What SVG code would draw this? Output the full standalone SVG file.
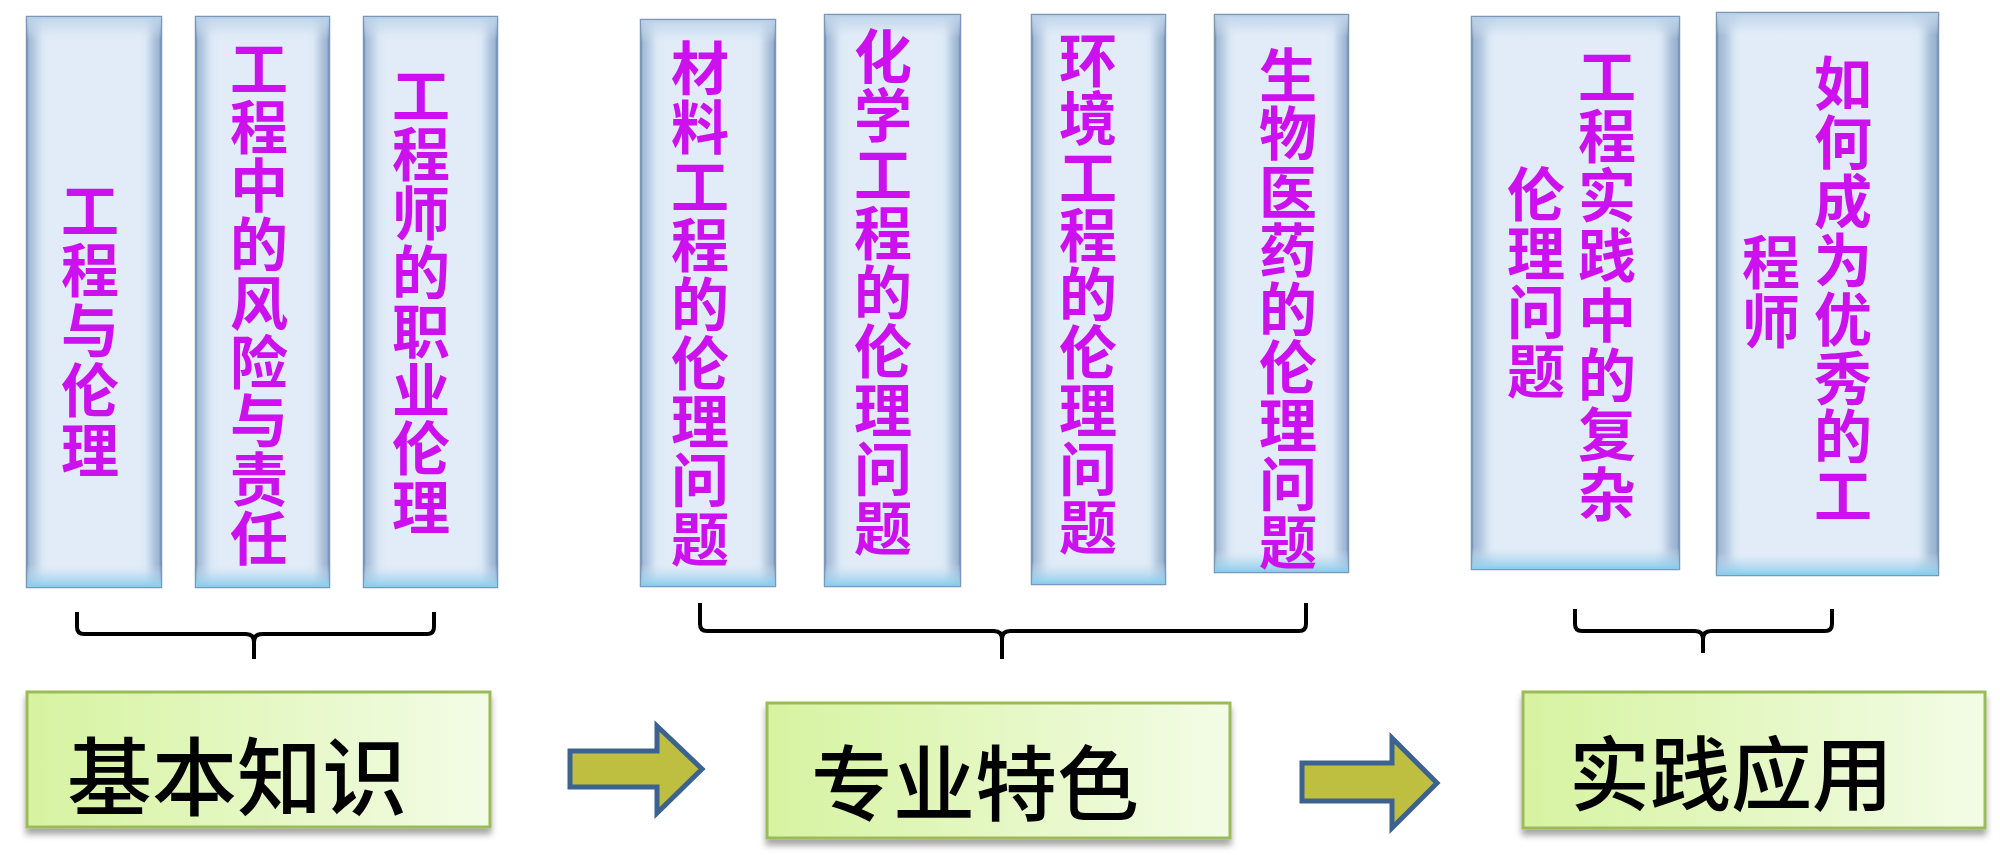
<svg xmlns="http://www.w3.org/2000/svg" width="2000" height="855" viewBox="0 0 2000 855">
<defs>
<linearGradient id="edgeH" x1="0" y1="0" x2="1" y2="0">
<stop offset="0" stop-color="#9DB6D3"/><stop offset="0.12" stop-color="#D3E2F2"/><stop offset="0.88" stop-color="#D3E2F2"/><stop offset="1" stop-color="#94AECD"/>
</linearGradient>
<linearGradient id="edgeV" x1="0" y1="0" x2="0" y2="1">
<stop offset="0" stop-color="#BCD3EA" stop-opacity="0.9"/><stop offset="0.04" stop-color="#DDE8F5" stop-opacity="0"/><stop offset="0.96" stop-color="#DDE8F5" stop-opacity="0"/><stop offset="1" stop-color="#86CDEE" stop-opacity="1"/>
</linearGradient>
<linearGradient id="green" x1="0" y1="0" x2="1" y2="0">
<stop offset="0" stop-color="#D6F3A0"/><stop offset="1" stop-color="#F3FCE6"/>
</linearGradient>
<filter id="soft" x="-20%" y="-20%" width="140%" height="140%"><feGaussianBlur stdDeviation="4"/></filter>
<filter id="shadow" x="-10%" y="-10%" width="120%" height="130%"><feDropShadow dx="0" dy="6" stdDeviation="3" flood-color="#000" flood-opacity="0.35"/></filter>
<style>
.pill{fill:url(#edgeH);stroke:#7C97B7;stroke-width:2.5}
.pill2{fill:url(#edgeV);stroke:none}
.inner{fill:#E1ECF8;filter:url(#soft)}
.vt{font-family:"Noto Sans CJK SC",sans-serif;font-weight:bold;font-size:58px;fill:#CC11EE;writing-mode:vertical-rl;text-orientation:upright}
.gbox{fill:url(#green);stroke:#9BBB59;stroke-width:3;filter:url(#shadow)}
.bt{font-family:"Noto Sans CJK SC",sans-serif;font-weight:500;fill:#000;text-anchor:middle}
.arrow{fill:#BEBE40;stroke:#3C6290;stroke-width:5;stroke-linejoin:miter}
.brace{fill:none;stroke:#000;stroke-width:4;stroke-linecap:butt}
</style>
</defs>
<rect width="2000" height="855" fill="#fff"/>

<g id="n1"><rect class="pill" x="27" y="17" width="134" height="570"/><rect class="inner" x="42" y="30" width="104" height="544"/><rect class="pill2" x="27" y="17" width="134" height="570"/>
<text class="vt" x="90" y="181" letter-spacing="2">工程与伦理</text></g>

<g id="n2"><rect class="pill" x="196" y="17" width="133" height="570"/><rect class="inner" x="211" y="30" width="103" height="544"/><rect class="pill2" x="196" y="17" width="133" height="570"/>
<text class="vt" x="259" y="39" letter-spacing="0.7">工程中的风险与责任</text></g>

<g id="n3"><rect class="pill" x="364" y="17" width="133" height="570"/><rect class="inner" x="379" y="30" width="103" height="544"/><rect class="pill2" x="364" y="17" width="133" height="570"/>
<text class="vt" x="421" y="66" letter-spacing="0.9">工程师的职业伦理</text></g>

<g id="n4"><rect class="pill" x="641" y="20" width="134" height="566"/><rect class="inner" x="656" y="33" width="104" height="540"/><rect class="pill2" x="641" y="20" width="134" height="566"/>
<text class="vt" x="700" y="39" letter-spacing="0.9">材料工程的伦理问题</text></g>

<g id="n5"><rect class="pill" x="825" y="15" width="135" height="571"/><rect class="inner" x="840" y="28" width="105" height="545"/><rect class="pill2" x="825" y="15" width="135" height="571"/>
<text class="vt" x="883" y="27" letter-spacing="1">化学工程的伦理问题</text></g>

<g id="n6"><rect class="pill" x="1032" y="15" width="133" height="569"/><rect class="inner" x="1047" y="28" width="103" height="543"/><rect class="pill2" x="1032" y="15" width="133" height="569"/>
<text class="vt" x="1088" y="31" letter-spacing="0.4">环境工程的伦理问题</text></g>

<g id="n7"><rect class="pill" x="1215" y="15" width="133" height="557"/><rect class="inner" x="1230" y="28" width="103" height="531"/><rect class="pill2" x="1215" y="15" width="133" height="557"/>
<text class="vt" x="1288" y="46" letter-spacing="0.4">生物医药的伦理问题</text></g>

<g id="n8"><rect class="pill" x="1472" y="17" width="207" height="552"/><rect class="inner" x="1487" y="30" width="177" height="526"/><rect class="pill2" x="1472" y="17" width="207" height="552"/>
<text class="vt" x="1607" y="47" letter-spacing="1.7">工程实践中的复杂</text>
<text class="vt" x="1536" y="165" letter-spacing="1">伦理问题</text></g>

<g id="n9"><rect class="pill" x="1717" y="13" width="221" height="562"/><rect class="inner" x="1732" y="26" width="191" height="536"/><rect class="pill2" x="1717" y="13" width="221" height="562"/>
<text class="vt" x="1843" y="54" letter-spacing="0.9">如何成为优秀的工</text>
<text class="vt" x="1771" y="233" letter-spacing="1">程师</text></g>

<g id="nA"><rect class="gbox" x="27" y="692" width="463" height="135"/><text class="bt" x="237" y="809" font-size="85">基本知识</text></g>
<g id="nB"><rect class="gbox" x="767" y="703" width="463" height="135"/><text class="bt" x="975" y="814" font-size="82">专业特色</text></g>
<g id="nC"><rect class="gbox" x="1523" y="692" width="462" height="136"/><text class="bt" x="1731" y="804" font-size="81">实践应用</text></g>

<g id="connectors">
<path class="arrow" d="M570,751 H657 V726 L702,769 L657,813 V787 H570 Z"/>
<path class="arrow" d="M1302,763 H1392 V738 L1437,783 L1392,828 V801 H1302 Z"/>
<path class="brace" d="M77,612 V627 Q77,634 84,634 H246 Q254,634 254,642 V659 M254,642 Q254,634 262,634 H427 Q434,634 434,627 V612"/>
<path class="brace" d="M700,603 V624 Q700,631 707,631 H994 Q1002,631 1002,639 V659 M1002,639 Q1002,631 1010,631 H1299 Q1306,631 1306,624 V603"/>
<path class="brace" d="M1575,609 V624 Q1575,631 1582,631 H1695 Q1703,631 1703,639 V653 M1703,639 Q1703,631 1711,631 H1825 Q1832,631 1832,624 V609"/>
</g>
</svg>
